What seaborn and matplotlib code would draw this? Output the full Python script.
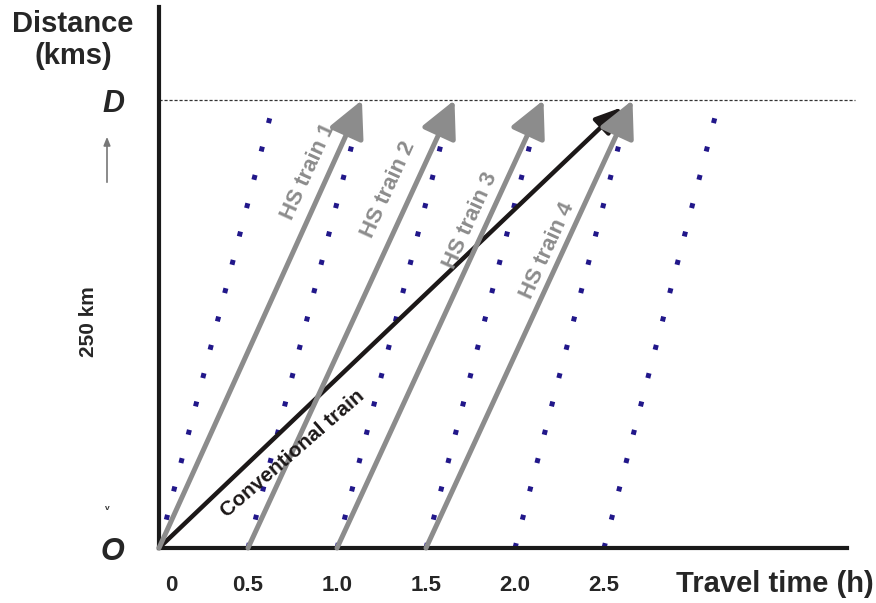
import matplotlib
matplotlib.use("Agg")
import matplotlib.pyplot as plt
import seaborn as sns
import pandas as pd

# ---------------- DATA ----------------

route_km = 250

hs_start = [0.0, 0.5, 1.0, 1.5]
hs_arrive = [1.14, 1.66, 2.16, 2.66]
hs_labels = ["HS train 1", "HS train 2", "HS train 3", "HS train 4"]
hs_label_time = [0.84, 1.29, 1.75, 2.185]
hs_label_km = [210, 200, 183, 166]

slot_start = [0.0, 0.5, 1.0, 1.5, 2.0, 2.5]
slot_end = [0.63, 1.13, 1.63, 2.13, 2.63, 3.13]
slot_top_km = 243

conv_time = [0.0, 2.6]
conv_km = [0.0, 246]

tick_times = [0.5, 1.0, 1.5, 2.0, 2.5]
tick_labels = ["0.5", "1.0", "1.5", "2.0", "2.5"]

# ---------------- STYLE ----------------

sns.set_style("white")
plt.rcParams["font.family"] = ["Liberation Sans", "DejaVu Sans"]
plt.rcParams["font.weight"] = "bold"

fig = plt.figure(figsize=(8.76, 6.03), dpi=100)
ax = fig.add_axes([159 / 876, 55 / 603, 688 / 876, 541 / 603])

# dotted path lines
rows = []
for i, (a, b) in enumerate(zip(slot_start, slot_end)):
    rows.append({"line": i, "time": a, "km": 0})
    rows.append({"line": i, "time": b, "km": slot_top_km})
slots = pd.DataFrame(rows)

sns.lineplot(
    data=slots, x="time", y="km", units="line", estimator=None,
    color="#21178a", linewidth=3.6, linestyle=(0, (1, 4.85)),
    dash_capstyle="butt", ax=ax, zorder=2
)

# conventional train
ax.annotate(
    "", xy=(conv_time[1], conv_km[1]), xytext=(conv_time[0], conv_km[0]),
    arrowprops=dict(arrowstyle="-|>,head_length=0.8,head_width=0.35",
                    mutation_scale=20, lw=3.2, color="#1c1818",
                    shrinkA=0, shrinkB=0),
    zorder=3
)
ax.text(0.75, 52.5, "Conventional train", rotation=41, fontsize=15,
        color="#1c1818", ha="center", va="center", rotation_mode="anchor",
        zorder=6)

# HS trains
for s, e, lab, lt, lk in zip(hs_start, hs_arrive, hs_labels,
                             hs_label_time, hs_label_km):
    ax.annotate(
        "", xy=(e, route_km), xytext=(s, 0),
        arrowprops=dict(arrowstyle="-|>,head_length=0.9,head_width=0.45",
                        mutation_scale=25, lw=3.6, color="#8c8c8c",
                        shrinkA=0, shrinkB=0),
        zorder=4
    )
    ax.text(lt, lk, lab, rotation=65.5, fontsize=16, color="#8c8c8c",
            ha="center", va="center", rotation_mode="anchor", zorder=5)

# destination line
ax.plot([0, 3.91], [route_km, route_km], color="#333333", lw=0.9,
        linestyle=(0, (2.5, 1.5)), clip_on=False, zorder=1)

# ---------------- AXES ----------------

ax.set_xlim(0, 3.865)
ax.set_ylim(0, 302)
for side in ["top", "right"]:
    ax.spines[side].set_visible(False)
for side in ["left", "bottom"]:
    ax.spines[side].set_color("#1a1a1a")
    ax.spines[side].set_linewidth(3)

ax.set_xticks(tick_times)
ax.set_xticklabels(tick_labels)
ax.tick_params(axis="x", direction="inout", length=23, width=3,
               color="#1a1a1a", labelsize=16, pad=8)
ax.set_yticks([0, route_km])
ax.set_yticklabels(["O", "D"])
ax.tick_params(axis="y", direction="out", length=16, width=3,
               color="#1a1a1a", labelsize=22, pad=9)
for lab in ax.get_yticklabels():
    lab.set_fontstyle("italic")
    lab.set_fontweight("bold")
for lab in ax.get_xticklabels():
    lab.set_fontweight("bold")
ax.set_xlabel("")
ax.set_ylabel("")

ax.annotate("0", xy=(0.07, 0), xycoords=("data", "axes fraction"),
            xytext=(0, -19.5), textcoords="offset points",
            fontsize=16, ha="center", va="top")

# ---------------- LABELS ----------------

fig.text(73 / 876, 1 - 10 / 603, "Distance\n(kms)", ha="center", va="top",
         fontsize=21, linespacing=1.2)
fig.text(874 / 876, 1 - 592 / 603, "Travel time (h)", ha="right",
         va="baseline", fontsize=21)
fig.text(88 / 876, 1 - 322 / 603, "250 km", rotation=90, ha="center",
         va="center", fontsize=15)

fig.patches.append(matplotlib.patches.FancyArrowPatch(
    (107 / 876, 1 - 185 / 603), (107 / 876, 1 - 134 / 603),
    transform=fig.transFigure, arrowstyle="-|>,head_length=0.5,head_width=0.2",
    mutation_scale=10, lw=1.2, color="#777777"))
fig.text(107 / 876, 1 - 508 / 603, "v", ha="center", va="center",
         fontsize=6, color="#333333")

fig.savefig("out.png", dpi=100)
